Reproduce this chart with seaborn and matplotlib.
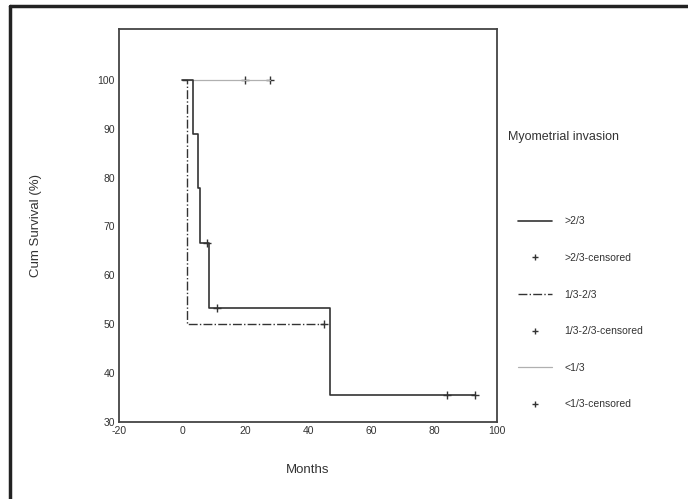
import matplotlib
matplotlib.use("Agg")
import matplotlib.pyplot as plt
from matplotlib.lines import Line2D
import seaborn as sns

sns.set_style("white")
plt.rcParams["font.family"] = ["Liberation Sans", "DejaVu Sans"]
plt.rcParams["axes.unicode_minus"] = False

# Kaplan-Meier steps
high_t = [0, 3.5, 5, 5.7, 8.5, 47, 93]
high_s = [100, 88.9, 77.8, 66.7, 53.3, 35.6, 35.6]
high_cens_t = [8, 11, 84, 93]
high_cens_s = [66.7, 53.3, 35.6, 35.6]

mid_t = [0, 1.5, 45]
mid_s = [100, 50, 50]
mid_cens_t = [45]
mid_cens_s = [50]

low_t = [0, 28]
low_s = [100, 100]
low_cens_t = [20, 28]
low_cens_s = [100, 100]

labels = [">2/3", ">2/3-censored", "1/3-2/3", "1/3-2/3-censored", "<1/3", "<1/3-censored"]

fig = plt.figure(figsize=(6.88, 4.99), dpi=100)
ax = fig.add_axes([0.173, 0.1543, 0.5494, 0.7877])

sns.lineplot(x=low_t, y=low_s, ax=ax, drawstyle="steps-post", color="#b0b0b0",
             lw=0.9, estimator=None, sort=False)
sns.lineplot(x=mid_t, y=mid_s, ax=ax, drawstyle="steps-post", color="#333333",
             lw=1.0, linestyle="-.", estimator=None, sort=False)
sns.lineplot(x=high_t, y=high_s, ax=ax, drawstyle="steps-post", color="#333333",
             lw=1.2, estimator=None, sort=False)

for ct, cs in [(high_cens_t, high_cens_s), (mid_cens_t, mid_cens_s), (low_cens_t, low_cens_s)]:
    sns.scatterplot(x=ct, y=cs, ax=ax, marker="+", s=40, color="#333333", linewidth=1.0)

ax.set_xlim(-20, 100)
ax.set_ylim(30, 110.4)
ax.set_xticks([-20, 0, 20, 40, 60, 80, 100])
ax.set_yticks([30, 40, 50, 60, 70, 80, 90, 100])
ax.tick_params(labelsize=7.5, length=2, width=1.2, colors="#333333", pad=1)
for sp in ax.spines.values():
    sp.set_color("#444444")
    sp.set_linewidth(1.3)
ax.set_xlabel("Months", fontsize=9.5, color="#333333", labelpad=20)
ax.set_ylabel("Cum Survival (%)", fontsize=9.5, color="#333333", labelpad=40)

handles = [
    Line2D([], [], color="#333333", lw=1.2),
    Line2D([], [], color="#333333", marker="+", lw=0, markersize=5),
    Line2D([], [], color="#333333", lw=1.0, linestyle="-."),
    Line2D([], [], color="#333333", marker="+", lw=0, markersize=5),
    Line2D([], [], color="#b0b0b0", lw=0.9),
    Line2D([], [], color="#333333", marker="+", lw=0, markersize=5),
]
fig.legend(handles, labels, loc="upper left", bbox_to_anchor=(0.74, 0.585),
           frameon=False, fontsize=7.5, labelspacing=2.55, handlelength=3.2,
           handletextpad=1.2, labelcolor="#333333")
fig.text(0.738, 1 - 137 / 499, "Myometrial invasion", fontsize=9, color="#333333",
         va="center", ha="left")

# frame lines along the left and top edge of the picture
fig.add_artist(Line2D([0.015, 0.015], [0, 0.988], color="#222222", lw=2.5))
fig.add_artist(Line2D([0.015, 1.0], [0.988, 0.988], color="#222222", lw=2.5))

fig.savefig("out.png", dpi=100)
